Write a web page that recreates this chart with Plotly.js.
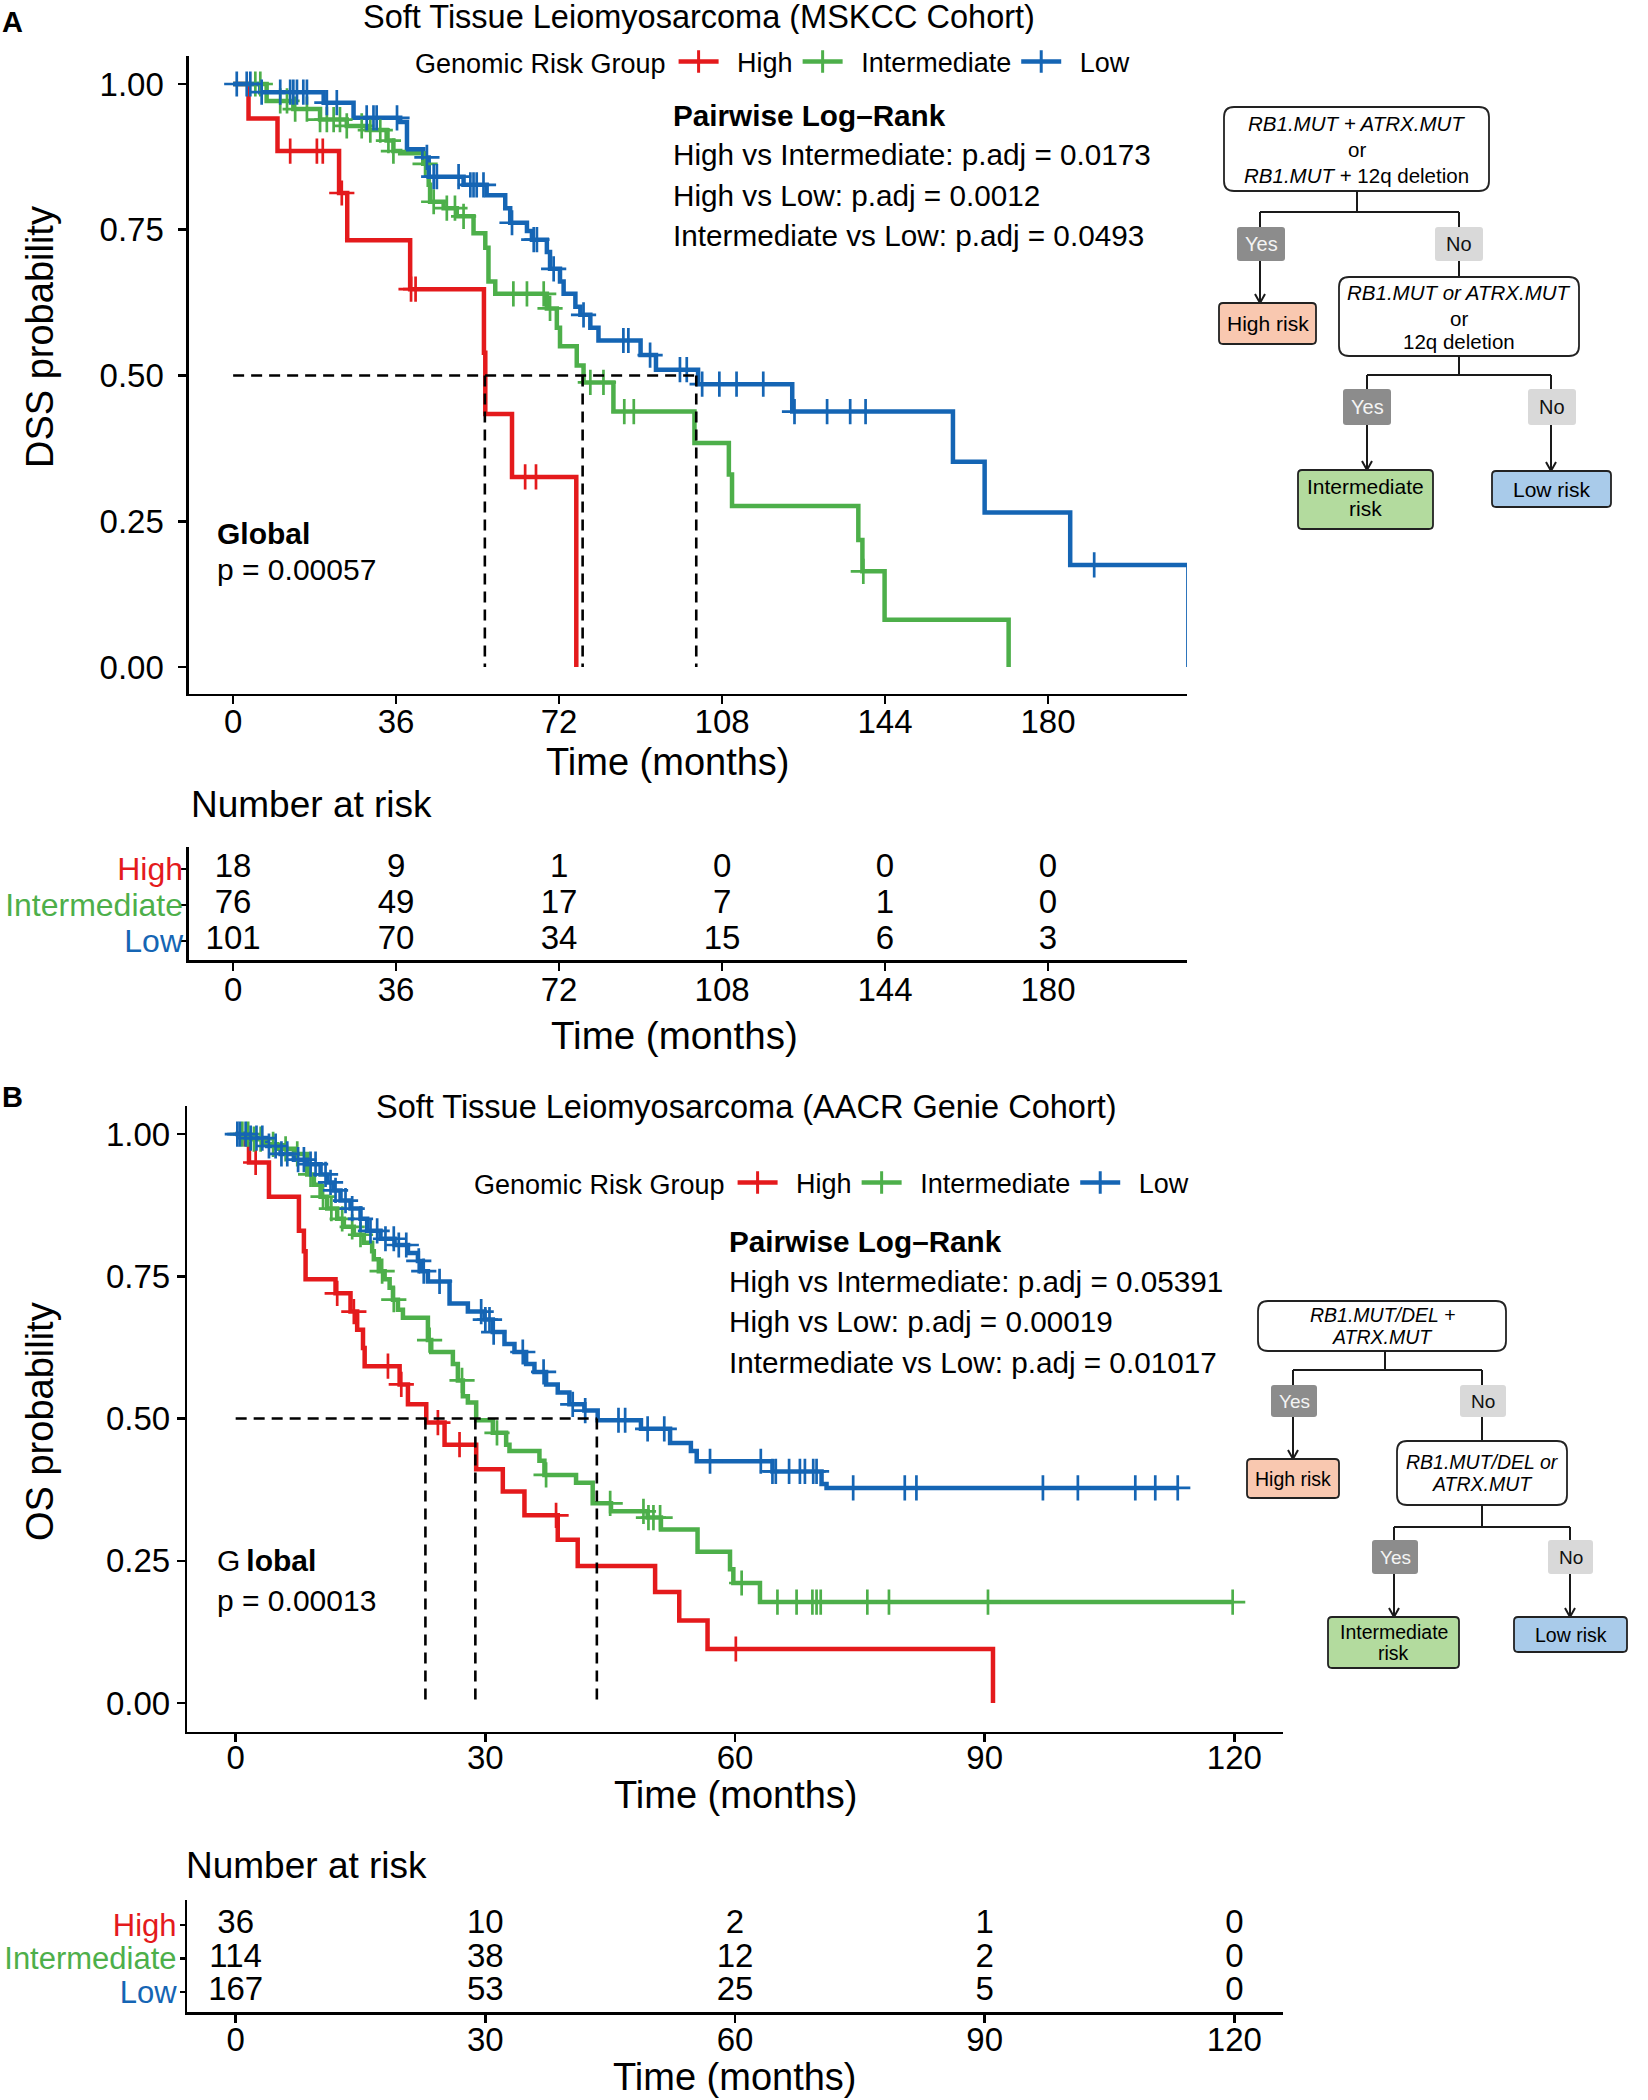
<!DOCTYPE html>
<html><head><meta charset="utf-8">
<script src="https://cdn.plot.ly/plotly-3.0.1.min.js"></script>
<style>html,body{margin:0;padding:0;background:#fff}</style>
</head><body><div id="chart" style="width:1648px;height:2100px"></div>
<script>
const FONT = 'Liberation Sans, Arial, Helvetica, sans-serif';
const W = 1648, H = 2100;

// ---------- shared ----------
const groups = ['High', 'Intermediate', 'Low'];
const groupColors = ['#E41A1C', '#4DAF4A', '#1565B4'];

// ---------- Panel A : MSKCC (DSS) ----------
const titleA = 'Soft Tissue Leiomyosarcoma (MSKCC Cohort)';
const timeA_High = [0, 3.4, 9.8, 23.4, 25.2, 39.1, 55.4, 55.7, 61.6, 75.8];
const survA_High = [1, 0.941, 0.885, 0.813, 0.732, 0.648, 0.539, 0.434, 0.326, 0];
const censA_High = [12.6, 18.5, 19.8, 24.0, 39.3, 40.3, 64.5, 66.9];

const timeA_Int = [0, 7.4, 13.3, 19.2, 25.1, 29.5, 33.9, 35.4, 36.9, 42.0, 43.2, 43.5, 46.5, 49.4, 53.1, 55.7, 56.4, 57.9, 69.3, 71.5, 72.2, 75.9, 77.4, 84.0, 101.9, 109.5, 110.2, 138.1, 139.0, 143.9, 171.3];
const survA_Int = [1, 0.971, 0.957, 0.939, 0.928, 0.921, 0.903, 0.885, 0.881, 0.863, 0.827, 0.798, 0.787, 0.773, 0.744, 0.719, 0.661, 0.640, 0.615, 0.582, 0.550, 0.517, 0.488, 0.438, 0.384, 0.330, 0.276, 0.218, 0.164, 0.081, 0];
const censA_Int = [4.9, 6.0, 10.4, 11.9, 13.7, 16.3, 19.2, 20.7, 22.2, 23.6, 25.1, 28.4, 30.3, 32.5, 34.3, 35.4, 42.4, 44.3, 47.2, 49.0, 50.9, 61.9, 64.9, 68.6, 70.0, 78.9, 81.8, 86.4, 88.5, 139.2];

const timeA_Low = [0, 6.0, 20.0, 26.6, 36.9, 38.4, 42.0, 43.2, 50.9, 56.0, 60.1, 61.2, 64.9, 66.0, 69.3, 70.0, 72.2, 73.0, 75.6, 76.7, 78.9, 80.7, 90.0, 93.4, 102.7, 123.5, 159.0, 166.0, 184.9, 211.0];
const survA_Low = [1, 0.986, 0.968, 0.942, 0.935, 0.888, 0.874, 0.841, 0.827, 0.809, 0.787, 0.762, 0.748, 0.733, 0.712, 0.683, 0.661, 0.640, 0.618, 0.604, 0.582, 0.560, 0.535, 0.510, 0.485, 0.438, 0.352, 0.265, 0.175, 0];
const censA_Low = [0.8, 3.0, 3.8, 6.3, 10.4, 12.6, 13.3, 14.1, 15.5, 16.3, 20.7, 22.9, 29.5, 31.0, 31.7, 36.2, 42.8, 44.3, 45.0, 49.8, 52.4, 53.1, 53.8, 55.3, 61.6, 66.4, 67.1, 70.8, 77.4, 86.2, 87.3, 92.1, 98.7, 100.2, 103.6, 107.4, 111.2, 117.1, 124.0, 131.2, 136.3, 139.7, 190.2];

const medianA = [55.6, 77.2, 102.3];
const riskTimesA = [0, 36, 72, 108, 144, 180];
const riskA_High = [18, 9, 1, 0, 0, 0];
const riskA_Int = [76, 49, 17, 7, 1, 0];
const riskA_Low = [101, 70, 34, 15, 6, 3];
const pairwiseA = ['High vs Intermediate: p.adj = 0.0173', 'High vs Low: p.adj = 0.0012', 'Intermediate vs Low: p.adj = 0.0493'];
const globalA = 'p = 0.00057';

// ---------- Panel B : AACR Genie (OS) ----------
const titleB = 'Soft Tissue Leiomyosarcoma (AACR Genie Cohort)';
const timeB_High = [0, 1.2, 1.6, 4.0, 7.6, 8.2, 8.4, 12.0, 13.8, 14.6, 15.3, 15.5, 19.7, 20.7, 22.9, 25.1, 28.9, 32.1, 34.7, 38.7, 41.1, 50.4, 53.3, 56.7, 91.0];
const survB_High = [1, 0.982, 0.95, 0.89, 0.83, 0.794, 0.745, 0.72, 0.688, 0.656, 0.624, 0.592, 0.56, 0.525, 0.493, 0.454, 0.411, 0.372, 0.33, 0.287, 0.241, 0.195, 0.145, 0.095, 0];
const censB_High = [2.4, 12.2, 14.2, 18.3, 19.9, 24.3, 26.9, 38.5, 60.1];

const timeB_Int = [0, 1.6, 3.5, 5.0, 7.0, 8.6, 9.4, 10.2, 11.0, 12.2, 13.0, 14.2, 15.4, 16.4, 16.6, 17.2, 17.9, 18.5, 18.9, 19.5, 20.1, 23.1, 23.5, 26.1, 26.7, 27.3, 27.9, 28.9, 30.9, 32.5, 32.9, 36.5, 37.1, 40.9, 42.9, 45.1, 49.5, 51.1, 55.5, 59.4, 59.8, 63.0];
const survB_Int = [1, 0.991, 0.982, 0.974, 0.965, 0.929, 0.911, 0.89, 0.869, 0.851, 0.837, 0.823, 0.809, 0.794, 0.78, 0.759, 0.745, 0.73, 0.709, 0.691, 0.677, 0.638, 0.617, 0.596, 0.567, 0.539, 0.528, 0.497, 0.475, 0.454, 0.443, 0.426, 0.401, 0.387, 0.351, 0.337, 0.326, 0.305, 0.266, 0.235, 0.211, 0.1775];
const censB_Int = [0.8, 1.5, 2.2, 3.0, 4.5, 6.0, 7.4, 9.0, 10.5, 11.5, 12.8, 14.0, 15.0, 17.6, 19.0, 23.3, 27.2, 31.4, 37.3, 45.0, 49.0, 49.6, 50.2, 51.0, 60.8, 65.1, 67.4, 69.3, 69.8, 70.3, 75.9, 78.5, 90.4, 119.8];

const timeB_Low = [0, 1.4, 3.8, 5.4, 7.0, 8.6, 10.2, 11.0, 11.8, 12.6, 13.8, 15.0, 15.8, 17.4, 19.1, 20.7, 21.9, 22.3, 23.1, 25.7, 27.9, 29.9, 30.9, 32.3, 33.5, 34.9, 35.9, 37.3, 38.7, 40.1, 41.9, 43.5, 48.7, 52.2, 54.7, 55.4, 64.5, 70.4, 71.0];
const survB_Low = [1, 0.993, 0.979, 0.965, 0.955, 0.947, 0.929, 0.915, 0.901, 0.883, 0.869, 0.851, 0.83, 0.816, 0.805, 0.791, 0.777, 0.759, 0.741, 0.702, 0.688, 0.674, 0.652, 0.631, 0.617, 0.596, 0.582, 0.56, 0.546, 0.525, 0.514, 0.497, 0.482, 0.457, 0.443, 0.425, 0.407, 0.385, 0.378];
const censB_Low = [0.2, 0.5, 1.2, 1.8, 2.5, 3.2, 4.0, 4.8, 5.5, 6.2, 7.5, 8.2, 9.0, 9.6, 10.8, 11.4, 12.0, 13.2, 14.0, 15.0, 16.2, 17.0, 18.0, 19.0, 19.6, 20.5, 22.0, 22.6, 24.5, 29.5, 30.0, 30.5, 31.0, 34.5, 37.0, 40.5, 42.0, 46.0, 46.8, 49.5, 51.5, 57.0, 63.1, 64.5, 64.9, 66.5, 67.8, 68.4, 69.4, 69.8, 74.2, 80.4, 81.8, 97.0, 101.2, 108.1, 110.5, 113.2];

const medianB = [22.8, 28.8, 43.4];
const riskTimesB = [0, 30, 60, 90, 120];
const riskB_High = [36, 10, 2, 1, 0];
const riskB_Int = [114, 38, 12, 2, 0];
const riskB_Low = [167, 53, 25, 5, 0];
const pairwiseB = ['High vs Intermediate: p.adj = 0.05391', 'High vs Low: p.adj = 0.00019', 'Intermediate vs Low: p.adj = 0.01017'];
const globalB = 'p = 0.00013';

// ---------- helpers ----------
const fx = x => x / W;
const fy = y => 1 - y / H;

function survAt(t, s, v) { let r = s[0]; for (let i = 0; i < t.length; i++) if (t[i] <= v) r = s[i]; return r; }

function stepTrace(t, s, c, color, xa, ya) {
  const last = t[t.length - 1];
  const end = Math.max(last, c.length ? Math.max(...c) : last);
  const x = t.slice(), y = s.slice();
  if (end > last) { x.push(end); y.push(s[s.length - 1]); }
  return { type: 'scatter', mode: 'lines', x, y, line: { shape: 'hv', color, width: 4.5 }, xaxis: xa, yaxis: ya, showlegend: false, hoverinfo: 'skip' };
}
function censorTrace(t, s, c, color, xa, ya) {
  return { type: 'scatter', mode: 'markers', x: c, y: c.map(v => survAt(t, s, v)),
    marker: { symbol: 'cross-thin', size: 18, color, line: { color, width: 2.7 } },
    xaxis: xa, yaxis: ya, showlegend: false, hoverinfo: 'skip' };
}
function medianTrace(meds, xa, ya) {
  const x = [0, Math.max(...meds)], y = [0.5, 0.5];
  meds.forEach(m => { x.push(null, m, m); y.push(null, 0.5, 0); });
  return { type: 'scatter', mode: 'lines', x, y, connectgaps: false, line: { color: '#000', width: 2.6, dash: '11px,7px' }, xaxis: xa, yaxis: ya, showlegend: false, hoverinfo: 'skip' };
}
function riskTrace(times, vals, row, xa, ya) {
  return { type: 'scatter', mode: 'text', x: times, y: times.map(() => row), text: vals.map(String),
    textposition: 'middle center', textfont: { size: 33, color: '#000', family: FONT },
    xaxis: xa, yaxis: ya, showlegend: false, hoverinfo: 'skip', cliponaxis: false };
}
function legendTrace(name, color, xa, ya, lg) {
  return { type: 'scatter', mode: 'lines+markers', name: '\u2002' + name, x: [null], y: [null],
    line: { color, width: 4.5 }, marker: { symbol: 'cross-thin', size: 16, color, line: { color, width: 3 } },
    xaxis: xa, yaxis: ya, legend: lg, showlegend: true, hoverinfo: 'skip' };
}

const panelA = [[timeA_High, survA_High, censA_High], [timeA_Int, survA_Int, censA_Int], [timeA_Low, survA_Low, censA_Low]];
const panelB = [[timeB_High, survB_High, censB_High], [timeB_Int, survB_Int, censB_Int], [timeB_Low, survB_Low, censB_Low]];
const riskA = [riskA_High, riskA_Int, riskA_Low];
const riskB = [riskB_High, riskB_Int, riskB_Low];

const traces = [];
panelA.forEach((d, i) => traces.push(stepTrace(d[0], d[1], d[2], groupColors[i], 'x', 'y')));
panelA.forEach((d, i) => traces.push(censorTrace(d[0], d[1], d[2], groupColors[i], 'x', 'y')));
traces.push(medianTrace(medianA, 'x', 'y'));
groups.forEach((g, i) => traces.push(legendTrace(g, groupColors[i], 'x', 'y', 'legend')));
riskA.forEach((r, i) => traces.push(riskTrace(riskTimesA, r, groups.length - i, 'x2', 'y2')));

panelB.forEach((d, i) => traces.push(stepTrace(d[0], d[1], d[2], groupColors[i], 'x3', 'y3')));
panelB.forEach((d, i) => traces.push(censorTrace(d[0], d[1], d[2], groupColors[i], 'x3', 'y3')));
traces.push(medianTrace(medianB, 'x3', 'y3'));
groups.forEach((g, i) => traces.push(legendTrace(g, groupColors[i], 'x3', 'y3', 'legend2')));
riskB.forEach((r, i) => traces.push(riskTrace(riskTimesB, r, groups.length - i, 'x4', 'y4')));

// ---------- axes ----------
const axBase = { showline: true, linecolor: '#000', linewidth: 2.6, ticks: 'outside', ticklen: 8, tickwidth: 2.6, tickcolor: '#000',
  showgrid: false, zeroline: false, tickfont: { size: 33, color: '#000', family: FONT }, fixedrange: true };
const survTicks = [0, 0.25, 0.5, 0.75, 1];
const survTickText = survTicks.map(v => v.toFixed(2));
const riskTickText = groups.map((g, i) => `<span style="color:${groupColors[i]}">${g}</span>`).reverse();

const xDomA = [fx(189), fx(1187)], xRangeA = [-9.75, 210.7];
const xDomB = [fx(187.4), fx(1282.6)], xRangeB = [-5.8, 125.8];

const layout = {
  width: W, height: H, margin: { l: 0, r: 0, t: 0, b: 0 },
  paper_bgcolor: '#fff', plot_bgcolor: 'rgba(0,0,0,0)',
  font: { family: FONT, color: '#000' },
  xaxis: Object.assign({}, axBase, { domain: xDomA, range: xRangeA, anchor: 'y', tickvals: riskTimesA, ticklabelstandoff: -11 }),
  yaxis: Object.assign({}, axBase, { domain: [fy(693.5), fy(56)], range: [-0.0455, 1.048], anchor: 'x',
    tickvals: survTicks, ticktext: survTickText, ticklabelstandoff: 8 }),
  xaxis2: Object.assign({}, axBase, { domain: xDomA, range: xRangeA, anchor: 'y2', tickvals: riskTimesA, ticklabelstandoff: -9 }),
  yaxis2: Object.assign({}, axBase, { domain: [fy(960), fy(847)], range: [0.47, 3.61], anchor: 'x2',
    tickvals: [1, 2, 3], ticktext: riskTickText, ticklen: 5, ticklabelstandoff: -8, tickfont: { size: 32, family: FONT } }),
  xaxis3: Object.assign({}, axBase, { domain: xDomB, range: xRangeB, anchor: 'y3', tickvals: riskTimesB, ticklabelstandoff: -13 }),
  yaxis3: Object.assign({}, axBase, { domain: [fy(1731.5), fy(1105.6)], range: [-0.05, 1.05], anchor: 'x3',
    tickvals: survTicks, ticktext: survTickText }),
  xaxis4: Object.assign({}, axBase, { domain: xDomB, range: xRangeB, anchor: 'y4', tickvals: riskTimesB, ticklabelstandoff: -11 }),
  yaxis4: Object.assign({}, axBase, { domain: [fy(2012), fy(1900)], range: [0.4, 3.75], anchor: 'x4',
    tickvals: [1, 2, 3], ticktext: riskTickText, ticklen: 5, ticklabelstandoff: -3, tickfont: { size: 31, family: FONT } }),
  legend: { x: fx(413), y: fy(62), xanchor: 'left', yanchor: 'middle', orientation: 'h',
    title: { text: 'Genomic Risk Group', side: 'left', font: { size: 27 } }, font: { size: 27, color: '#000' },
    bgcolor: 'rgba(0,0,0,0)', itemwidth: 40, traceorder: 'normal' },
  legend2: { x: fx(472), y: fy(1183), xanchor: 'left', yanchor: 'middle', orientation: 'h',
    title: { text: 'Genomic Risk Group', side: 'left', font: { size: 27 } }, font: { size: 27, color: '#000' },
    bgcolor: 'rgba(0,0,0,0)', itemwidth: 40, traceorder: 'normal' },
  annotations: [], shapes: []
};

const ann = layout.annotations, shapes = layout.shapes;
function txt(x, y, text, size, opts) {
  ann.push(Object.assign({ xref: 'paper', yref: 'paper', x: fx(x), y: fy(y), text, showarrow: false,
    xanchor: 'center', yanchor: 'middle', font: { size, color: '#000', family: FONT } }, opts || {}));
}

// titles and panel letters
txt(12, 22, '<b>A</b>', 29);
txt(12, 1097, '<b>B</b>', 29);
txt(699, 17, titleA, 32.5, { height: 34 });
txt(746, 1107, titleB, 32.5);

// axis titles
txt(668, 762, 'Time (months)', 38);
txt(674, 1035, 'Time (months)', 38.5);
txt(40, 337, 'DSS probability', 38, { textangle: -90 });
txt(736, 1795, 'Time (months)', 38);
txt(735, 2077, 'Time (months)', 38);
txt(40, 1422, 'OS probability', 38, { textangle: -90 });

// pairwise / global
txt(671, 115, '<b>Pairwise Log–Rank</b>', 29.7, { xanchor: 'left' });
pairwiseA.forEach((s, i) => txt(671, 155 + i * 40.3, s, 29.7, { xanchor: 'left' }));
txt(215, 533, '<b>Global</b>', 30, { xanchor: 'left' });
txt(215, 569, globalA, 30, { xanchor: 'left' });

txt(727, 1241, '<b>Pairwise Log–Rank</b>', 29.7, { xanchor: 'left' });
pairwiseB.forEach((s, i) => txt(727, 1281 + i * 40.8, s, 29.7, { xanchor: 'left' }));
txt(215, 1560, 'G\u2009<b>lobal</b>', 30, { xanchor: 'left' });
txt(215, 1600, globalB, 30, { xanchor: 'left' });

txt(189, 805, 'Number at risk', 37, { xanchor: 'left' });
txt(184, 1865, 'Number at risk', 37, { xanchor: 'left' });

// ---------- flowcharts ----------
const X = v => (v / W).toFixed(6), Y = v => (1 - v / H).toFixed(6);
function rbox(x0, y0, x1, y1, r, fill, stroke, lw) {
  const d = `M${X(x0 + r)},${Y(y0)} L${X(x1 - r)},${Y(y0)} Q${X(x1)},${Y(y0)} ${X(x1)},${Y(y0 + r)} L${X(x1)},${Y(y1 - r)} Q${X(x1)},${Y(y1)} ${X(x1 - r)},${Y(y1)} L${X(x0 + r)},${Y(y1)} Q${X(x0)},${Y(y1)} ${X(x0)},${Y(y1 - r)} L${X(x0)},${Y(y0 + r)} Q${X(x0)},${Y(y0)} ${X(x0 + r)},${Y(y0)} Z`;
  shapes.push({ type: 'path', xref: 'paper', yref: 'paper', path: d, fillcolor: fill, line: { color: stroke, width: lw }, layer: 'above' });
}
function seg(x0, y0, x1, y1) {
  shapes.push({ type: 'line', xref: 'paper', yref: 'paper', x0: fx(x0), y0: fy(y0), x1: fx(x1), y1: fy(y1), line: { color: '#1a1a1a', width: 2 }, layer: 'above' });
}
function arrow(x, y0, y1) {
  seg(x, y0, x, y1);
  shapes.push({ type: 'path', xref: 'paper', yref: 'paper', path: `M${X(x - 5)},${Y(y1 - 9)} L${X(x)},${Y(y1)} L${X(x + 5)},${Y(y1 - 9)}`, line: { color: '#1a1a1a', width: 2 }, layer: 'above' });
}
function yesBox(x0, y0, x1, y1, size) {
  rbox(x0, y0, x1, y1, 3, '#8C8C8C', 'rgba(0,0,0,0)', 0);
  txt((x0 + x1) / 2, (y0 + y1) / 2, 'Yes', size, { font: { size, color: '#F4F4F4', family: FONT } });
}
function noBox(x0, y0, x1, y1, size) {
  rbox(x0, y0, x1, y1, 3, '#D9D9D9', 'rgba(0,0,0,0)', 0);
  txt((x0 + x1) / 2, (y0 + y1) / 2, 'No', size, { font: { size, color: '#111', family: FONT } });
}
const riskFill = ['#F9C8B0', '#B3DB9E', '#A9CBEA'];

// Flowchart A
(function () {
  const s = 20.5;
  rbox(1224, 107, 1489, 191, 10, '#fff', '#222', 1.8);
  txt(1356.5, 124, '<i>RB1.MUT + ATRX.MUT</i>', s);
  txt(1356.5, 150, 'or', s);
  txt(1356.5, 175, '<i>RB1.MUT</i> + 12q deletion', s);
  seg(1357, 191, 1357, 212); seg(1260, 212, 1459, 212); seg(1260, 212, 1260, 227); seg(1459, 212, 1459, 227);
  yesBox(1237, 227, 1285, 261, 20); noBox(1435, 227, 1483, 261, 20);
  arrow(1260, 261, 303);
  rbox(1219, 303, 1316, 344, 4, riskFill[0], '#222', 1.8);
  txt(1267.5, 324, 'High risk', 21);
  seg(1459, 261, 1459, 277);
  rbox(1339, 277, 1579, 356, 10, '#fff', '#222', 1.8);
  txt(1459, 292, '<i>RB1.MUT or ATRX.MUT</i>', s);
  txt(1459, 318, 'or', s);
  txt(1459, 342, '12q deletion', s);
  seg(1459, 356, 1459, 375); seg(1367, 375, 1551, 375); seg(1367, 375, 1367, 389); seg(1551, 375, 1551, 389);
  yesBox(1343, 389, 1391, 425, 20); noBox(1528, 389, 1576, 425, 20);
  arrow(1367, 425, 470); arrow(1551, 425, 471);
  rbox(1298, 470, 1433, 529, 4, riskFill[1], '#222', 1.8);
  txt(1365.5, 487, 'Intermediate', 21); txt(1365.5, 509, 'risk', 21);
  rbox(1492, 471, 1611, 507, 4, riskFill[2], '#222', 1.8);
  txt(1551.5, 489, 'Low risk', 21);
})();

// Flowchart B
(function () {
  const s = 19.5;
  rbox(1258, 1301, 1506, 1351, 10, '#fff', '#222', 1.8);
  txt(1382, 1315, '<i>RB1.MUT/DEL +</i>', s);
  txt(1382, 1337, '<i>ATRX.MUT</i>', s);
  seg(1385, 1351, 1385, 1370); seg(1293, 1370, 1482, 1370); seg(1293, 1370, 1293, 1385); seg(1482, 1370, 1482, 1385);
  yesBox(1271, 1385, 1317, 1417, 19); noBox(1460, 1385, 1506, 1417, 19);
  arrow(1293, 1417, 1459);
  rbox(1247, 1459, 1339, 1498, 4, riskFill[0], '#222', 1.8);
  txt(1293, 1478.5, 'High risk', 19.5);
  seg(1482, 1417, 1482, 1441);
  rbox(1397, 1441, 1567, 1505, 10, '#fff', '#222', 1.8);
  txt(1482, 1462, '<i>RB1.MUT/DEL or</i>', s);
  txt(1482, 1484, '<i>ATRX.MUT</i>', s);
  seg(1482, 1505, 1482, 1527); seg(1394, 1527, 1570, 1527); seg(1394, 1527, 1394, 1540); seg(1570, 1527, 1570, 1540);
  yesBox(1372, 1540, 1418, 1574, 19); noBox(1548, 1540, 1593, 1574, 19);
  arrow(1394, 1574, 1617); arrow(1570, 1574, 1617);
  rbox(1328, 1617, 1459, 1668, 4, riskFill[1], '#222', 1.8);
  txt(1393.5, 1632, 'Intermediate', 19.5); txt(1393.5, 1653, 'risk', 19.5);
  rbox(1514, 1617, 1627, 1652, 4, riskFill[2], '#222', 1.8);
  txt(1570.5, 1634.5, 'Low risk', 19.5);
})();

Plotly.newPlot('chart', traces, layout, { staticPlot: true, displayModeBar: false });
</script></body></html>
